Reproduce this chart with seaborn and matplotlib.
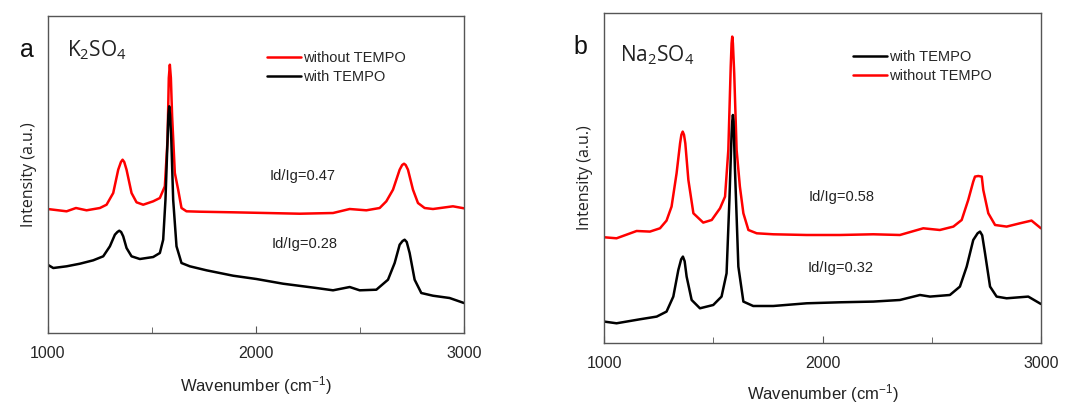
import matplotlib
matplotlib.use("Agg")
import matplotlib.pyplot as plt
import seaborn as sns
import pandas as pd
from matplotlib.ticker import MultipleLocator

sns.set_style("ticks")
plt.rcParams['font.family'] = ['Liberation Sans', 'DejaVu Sans']
plt.rcParams['mathtext.default'] = 'regular'

# Panel a (K2SO4)
a_wn_without = [1000, 1091, 1136, 1187, 1251, 1283, 1315, 1339, 1352, 1360, 1368, 1379, 1403, 1427, 1459, 1507,
                1539, 1563, 1576, 1582, 1587, 1592, 1598, 1611, 1627, 1643, 1667, 1731, 1891, 2051, 2211, 2371,
                2451, 2531, 2595, 2627, 2659, 2691, 2703, 2712, 2720, 2731, 2755, 2779, 2811, 2851, 2947, 3000]
a_int_without = [124.0, 121.7, 125.0, 122.7, 125.0, 128.3, 140.0, 163.3, 171.0, 173.3, 171.0, 163.3, 140.0, 130.7, 128.3, 131.7,
                 135.0, 146.7, 193.3, 255.0, 268.3, 255.0, 216.7, 160.0, 143.3, 125.0, 121.7, 121.3, 120.7, 120.0, 119.3, 120.0,
                 124.0, 122.7, 125.0, 131.7, 143.3, 163.3, 168.0, 169.3, 168.0, 163.3, 143.3, 130.0, 125.0, 124.0, 126.7, 124.7]
a_wn_with = [1000, 1027, 1091, 1155, 1219, 1267, 1299, 1323, 1335, 1344, 1353, 1363, 1379, 1403, 1443, 1507,
             1539, 1555, 1566, 1576, 1580, 1584, 1588, 1594, 1603, 1619, 1643, 1683, 1763, 1891, 2003, 2131,
             2291, 2371, 2451, 2499, 2579, 2635, 2667, 2691, 2705, 2715, 2725, 2739, 2763, 2795, 2851, 2931, 3000]
a_int_with = [68.3, 65.0, 66.7, 69.3, 72.7, 76.7, 86.7, 98.3, 101.0, 102.3, 101.0, 96.7, 85.0, 76.7, 74.0, 76.0,
              80.0, 93.3, 133.3, 193.3, 218.0, 226.7, 218.0, 193.3, 133.3, 86.7, 70.0, 66.7, 62.7, 57.3, 54.0, 49.3,
              45.0, 42.7, 46.0, 42.7, 43.3, 53.3, 70.0, 88.3, 92.0, 93.3, 91.0, 80.0, 53.3, 40.0, 37.3, 35.0, 30.0]

# Panel b (Na2SO4)
b_wn_without = [1000, 1056, 1148, 1209, 1255, 1285, 1308, 1331, 1347, 1353, 1359, 1365, 1371, 1385, 1408, 1453,
                1492, 1530, 1553, 1568, 1579, 1583, 1586, 1589, 1595, 1606, 1621, 1637, 1660, 1698, 1774, 1927,
                2079, 2232, 2354, 2461, 2537, 2599, 2637, 2667, 2690, 2698, 2713, 2729, 2736, 2759,
                2790, 2843, 2904, 2957, 3000]
b_int_without = [106.0, 105.0, 112.3, 111.7, 115.0, 122.7, 136.7, 170.0, 200.0, 208.5, 211.7, 208.5, 200.0, 163.3, 130.0, 120.7,
                 123.3, 135.0, 146.7, 193.3, 276.7, 300.0, 306.7, 300.0, 270.0, 193.3, 156.7, 130.0, 113.3, 110.0, 109.0, 108.3,
                 108.3, 109.0, 108.3, 115.0, 113.3, 116.7, 123.3, 143.3, 161.7, 166.7, 167.3, 166.7, 153.3, 130.0,
                 118.3, 116.7, 120.0, 122.7, 115.0]
b_wn_with = [1000, 1056, 1163, 1240, 1285, 1316, 1339, 1352, 1360, 1368, 1377, 1400, 1438, 1499, 1537, 1560,
             1573, 1583, 1586, 1589, 1592, 1598, 1614, 1637, 1682, 1774, 1927, 2079, 2232, 2354, 2446, 2492,
             2583, 2629, 2660, 2690, 2710, 2721, 2731, 2744, 2767, 2797, 2843, 2942, 3000]
b_int_with = [21.7, 20.0, 24.0, 26.7, 31.7, 46.7, 73.3, 84.0, 86.7, 82.0, 66.7, 43.3, 35.0, 38.3, 46.7, 70.0,
              143.3, 210.0, 222.0, 228.3, 222.0, 176.7, 76.7, 41.7, 37.3, 37.3, 40.0, 41.0, 41.7, 43.3, 48.3, 46.7,
              48.3, 56.7, 76.7, 103.3, 110.0, 111.7, 108.0, 90.0, 56.7, 46.7, 45.0, 46.7, 39.3]

panel_letters = ["a", "b"]
salts = ["K$_2$SO$_4$", "Na$_2$SO$_4$"]
ratio_without = ["Id/Ig=0.47", "Id/Ig=0.58"]
ratio_with = ["Id/Ig=0.28", "Id/Ig=0.32"]
xticks = [1000, 2000, 3000]

fig = plt.figure(figsize=(10.78, 4.08), dpi=100)
axA = fig.add_axes([0.0442, 0.1838, 0.3862, 0.7777])
axB = fig.add_axes([0.5606, 0.1586, 0.4050, 0.8103])

spine_col = "#555555"

def draw(ax, wn_wo, int_wo, wn_w, int_w, ylim, letter, salt, r_wo, r_w, r_wo_pos, r_w_pos,
         order, leg_anchor, letter_xy, salt_xy, xlabelpad):
    df_wo = pd.DataFrame({"wn": wn_wo, "I": int_wo})
    df_w = pd.DataFrame({"wn": wn_w, "I": int_w})
    sns.lineplot(data=df_wo, x="wn", y="I", ax=ax, color="#ff0000", lw=1.8, label="without TEMPO")
    sns.lineplot(data=df_w, x="wn", y="I", ax=ax, color="#000000", lw=1.8, label="with TEMPO")
    ax.set_xlim(1000, 3000)
    ax.set_ylim(*ylim)
    ax.set_xticks(xticks)
    ax.xaxis.set_minor_locator(MultipleLocator(500))
    ax.set_yticks([])
    ax.tick_params(axis="x", which="both", direction="in", labelsize=11.5, pad=9,
                   color=spine_col)
    ax.tick_params(axis="x", which="major", length=5)
    ax.tick_params(axis="x", which="minor", length=4)
    for s in ax.spines.values():
        s.set_visible(True)
        s.set_color(spine_col)
        s.set_linewidth(1.0)
    ax.set_xlabel("Wavenumber (cm$^{-1}$)", fontsize=12, labelpad=xlabelpad, color="#222222")
    ax.set_ylabel("Intensity (a.u.)", fontsize=11.5, labelpad=8, color="#222222",
                  family=['Open Sans', 'DejaVu Sans'])
    h, l = ax.get_legend_handles_labels()
    d = dict(zip(l, h))
    ax.legend([d[k] for k in order], order, loc="upper left", bbox_to_anchor=leg_anchor,
              frameon=False, fontsize=10.5, handlelength=2.3, handletextpad=0.2,
              labelspacing=0.35, borderpad=0, borderaxespad=0)
    ax.text(r_wo_pos[0], r_wo_pos[1], r_wo, transform=ax.transAxes, fontsize=10.5,
            color="#222222", va="center")
    ax.text(r_w_pos[0], r_w_pos[1], r_w, transform=ax.transAxes, fontsize=10.5,
            color="#222222", va="center")
    ax.text(salt_xy[0], salt_xy[1], salt, transform=ax.transAxes, fontsize=15,
            color="#222222", va="center", family=['Open Sans', 'DejaVu Sans'])
    fig.text(letter_xy[0], letter_xy[1], letter, fontsize=18, color="#111111", va="center")

draw(axA, a_wn_without, a_int_without, a_wn_with, a_int_with, (0, 317.3),
     panel_letters[0], salts[0], ratio_without[0], ratio_with[0],
     ((270 - 47.7) / 416.3, (333 - 176) / 317.3), ((272 - 47.7) / 416.3, (333 - 244) / 317.3),
     ["without TEMPO", "with TEMPO"], ((267 - 47.7) / 416.3, (333 - 51) / 317.3),
     (20 / 1078, 1 - 50 / 408), ((67 - 47.7) / 416.3, (333 - 50) / 317.3), 10)
draw(axB, b_wn_without, b_int_without, b_wn_with, b_int_with, (0, 330.6),
     panel_letters[1], salts[1], ratio_without[1], ratio_with[1],
     ((809 - 604.3) / 436.7, (343.3 - 197) / 330.6), ((808 - 604.3) / 436.7, (343.3 - 268) / 330.6),
     ["with TEMPO", "without TEMPO"], ((853 - 604.3) / 436.7, (343.3 - 50) / 330.6),
     (573 / 1078, 1 - 47 / 408), ((620 - 604.3) / 436.7, (343.3 - 55) / 330.6), 8)

fig.savefig("out.png", dpi=100)
